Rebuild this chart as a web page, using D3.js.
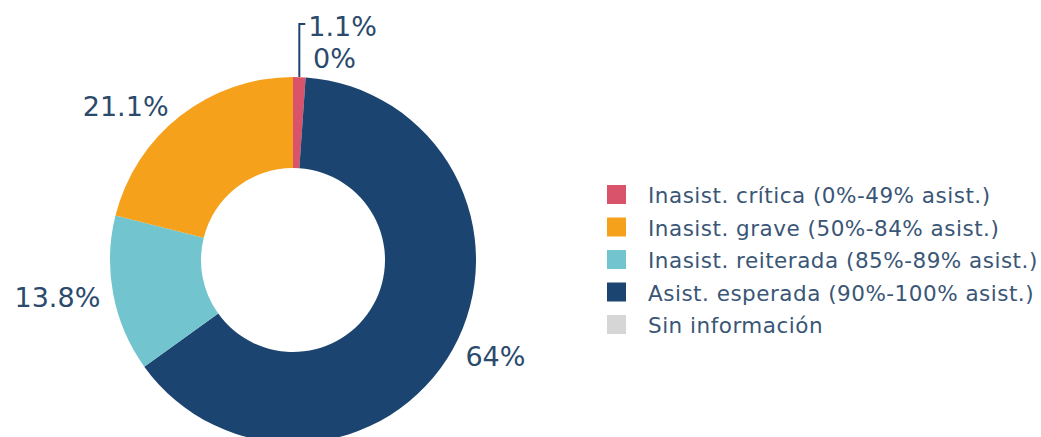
<!DOCTYPE html>
<html>
<head>
<meta charset="utf-8">
<script src="https://cdn.jsdelivr.net/npm/d3@7"></script>
<style>
  body { margin: 0; background: #fff; }
  text { font-family: "DejaVu Sans", Verdana, sans-serif; }
</style>
</head>
<body>
<svg id="donutchart"></svg>
<script>

// categories, values and colours (legend order)
var categories = [
  "Inasist. crítica (0%-49% asist.)",
  "Inasist. grave (50%-84% asist.)",
  "Inasist. reiterada (85%-89% asist.)",
  "Asist. esperada (90%-100% asist.)",
  "Sin información"
];
var values = [1.1, 21.1, 13.8, 64, 0];
var colors = ["#d9536a", "#f5a11c", "#72c5ce", "#1b4570", "#d6d6d6"];

// order the slices are drawn clockwise from 12 o'clock
var sliceOrder = [0, 3, 2, 1, 4];

// set the dimensions
var width = 1041,
    height = 437,
    cx = 293, cy = 260,
    outerR = 183, innerR = 92;

var labelColor = "#2b4a6c";

var svg = d3.select("#donutchart")
    .attr("width", width)
    .attr("height", height);

var data = sliceOrder.map(function(i) {
  return {name: categories[i], value: values[i], color: colors[i], idx: i};
});

var pie = d3.pie()
    .sort(null)
    .value(function(d) { return d.value; });

var arc = d3.arc()
    .innerRadius(innerR)
    .outerRadius(outerR);

var g = svg.append("g")
    .attr("transform", "translate(" + cx + "," + cy + ")");

var arcs = pie(data);

// slices
g.selectAll("path.slice")
    .data(arcs)
  .enter().append("path")
    .attr("class", "slice")
    .attr("d", arc)
    .attr("fill", function(d) { return d.data.color; });

// point on a circle of radius r at angle a (0 = 12 o'clock, clockwise)
function pt(a, r) { return [r * Math.sin(a), -r * Math.cos(a)]; }

// outside labels
var capH = 20;
arcs.forEach(function(d) {
  var mid = (d.startAngle + d.endAngle) / 2;
  var txt = d.data.value + "%";
  var p, anchor, x, y;

  if (d.data.idx === 0) {
    // small slice: leader line up and to the right
    p = pt(mid, outerR);
    g.append("path")
        .attr("d", "M" + p[0] + "," + p[1] + "V" + (p[1] - 53) + "H" + (p[0] + 6))
        .attr("fill", "none")
        .attr("stroke", "#1b4570")
        .attr("stroke-width", 2);
    g.append("text")
        .attr("x", p[0] + 9)
        .attr("y", p[1] - 41)
        .attr("font-size", 27)
        .attr("fill", labelColor)
        .text(txt);
    return;
  }
  if (d.data.value === 0) {
    p = pt(d.endAngle, outerR);
    g.append("text")
        .attr("x", p[0] + 20)
        .attr("y", p[1] - 9)
        .attr("font-size", 27)
        .attr("fill", labelColor)
        .text(txt);
    return;
  }

  p = pt(mid, outerR + 3);
  var s = Math.sin(mid), c = Math.cos(mid);
  if (s > 0.1) { anchor = "start"; x = p[0] + 10; }
  else if (s < -0.1) { anchor = "end"; x = p[0] - 10; }
  else { anchor = "middle"; x = p[0]; }
  y = p[1] + capH * (1 - c) / 2;

  g.append("text")
      .attr("x", x)
      .attr("y", y)
      .attr("text-anchor", anchor)
      .attr("font-size", 27)
      .attr("fill", labelColor)
      .text(txt);
});

// legend
var legend = svg.append("g")
    .attr("transform", "translate(607,185)");

var rows = legend.selectAll("g")
    .data(categories)
  .enter().append("g")
    .attr("transform", function(d, i) { return "translate(0," + (i * 32.5) + ")"; });

rows.append("rect")
    .attr("width", 19)
    .attr("height", 19)
    .attr("fill", function(d, i) { return colors[i]; });

rows.append("text")
    .attr("x", 41)
    .attr("y", 18)
    .attr("font-size", 21.5)
    .attr("letter-spacing", 0.5)
    .attr("fill", "#3a5676")
    .text(function(d) { return d; });

</script>
</body>
</html>
